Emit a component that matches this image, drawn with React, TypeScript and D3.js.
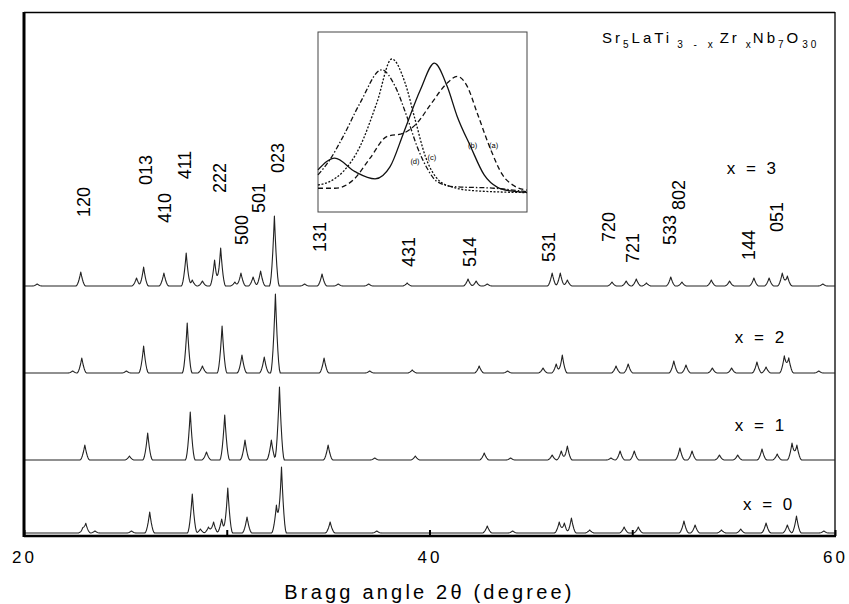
import React, { useEffect, useRef } from "react";
import * as d3 from "d3";

const W = 849;
const H = 604;
const FONT = "'Liberation Sans', Arial, sans-serif";

// peak lists [2theta, intensity], one per composition
const peaksX3 = [
  [20.65, 2], [22.8, 14], [25.55, 8], [25.9, 19], [26.9, 13], [28.0, 33], [28.3, 6],
  [28.8, 5], [29.4, 26], [29.7, 38], [30.4, 4], [30.7, 13], [31.3, 9], [31.67, 15],
  [32.35, 70], [33.84, 2], [34.7, 12], [35.5, 2], [37.0, 2], [38.9, 3], [41.9, 7],
  [42.3, 5], [42.85, 2], [46.05, 13], [46.45, 13], [46.8, 6], [49.0, 4], [49.7, 5],
  [50.2, 7], [50.7, 3], [51.9, 9], [52.45, 4], [53.9, 6], [54.8, 5], [56.0, 8],
  [56.75, 8], [57.4, 13], [57.65, 10], [59.4, 2],
];
const peaksX2 = [
  [22.4, 2], [22.85, 15], [25.05, 2], [25.9, 27], [28.05, 50], [28.8, 7], [29.77, 47],
  [30.75, 18], [31.85, 16], [32.4, 79], [34.8, 15], [37.05, 2], [39.15, 3], [42.45, 7],
  [43.85, 2], [45.6, 5], [46.25, 9], [46.55, 18], [49.2, 7], [49.8, 9], [52.05, 12],
  [52.65, 8], [53.95, 5], [54.9, 5], [56.15, 11], [56.6, 6], [57.5, 17], [57.72, 15],
  [59.2, 2],
];
const peaksX1 = [
  [23.0, 15], [25.2, 4], [26.1, 27], [28.2, 48], [29.0, 8], [29.9, 45], [30.9, 20],
  [32.2, 20], [32.6, 73], [35.0, 15], [37.3, 2], [39.3, 4], [42.7, 7], [44.0, 2],
  [46.05, 5], [46.5, 9], [46.8, 14], [48.95, 2], [49.4, 9], [50.1, 9], [52.35, 12],
  [52.95, 9], [54.3, 5], [55.2, 5], [56.4, 11], [57.15, 6], [57.88, 17], [58.12, 15],
];
const peaksX0 = [
  [22.9, 4], [23.05, 9], [23.5, 2], [25.3, 2], [26.2, 21], [28.3, 39], [28.7, 4],
  [29.1, 6], [29.35, 11], [29.75, 14], [30.05, 45], [31.0, 16], [32.45, 28], [32.7, 66],
  [35.1, 11], [37.4, 2], [42.85, 7], [44.1, 2], [46.4, 11], [46.65, 10], [47.0, 15],
  [47.9, 3], [49.6, 6], [50.3, 6], [52.55, 12], [53.1, 8], [54.4, 3], [55.35, 4],
  [56.6, 10], [57.65, 8], [58.1, 17], [59.45, 2],
];

const patternLabels = ["x = 3", "x = 2", "x = 1", "x = 0"];
const patternOffsets = [250, 163, 76, 3];
// [2theta, intensity] where each composition label sits
const patternLabelAt = [[55.95, 362], [56.35, 193], [56.35, 105], [56.75, 26]];

// hkl indexing: [label, 2theta, intensity level of label centre]
const hklLabels: [string, number, number][] = [
  ["120", 22.96, 334], ["013", 26.0, 366], ["410", 26.95, 328], ["411", 27.93, 371],
  ["222", 29.66, 358], ["500", 30.74, 306], ["501", 31.58, 338], ["023", 32.51, 378],
  ["131", 34.58, 299], ["431", 39.0, 284], ["514", 42.0, 284], ["531", 45.9, 289],
  ["720", 48.87, 309], ["721", 50.05, 288], ["533", 51.87, 306], ["802", 52.32, 341],
  ["144", 55.76, 291], ["051", 57.14, 319],
];

const xTicks = [20, 30, 40, 50, 60];

// inset: profile of one reflection, relative position / intensity (0-100)
const insetA = [[0, 13.2], [8, 13.2], [16.9, 17.8], [24.9, 29.9], [32.9, 41.9], [40.9, 43.8], [47.4, 49.4], [53.8, 59.6], [61.8, 71.6], [66.6, 75.3], [71.4, 69.8], [76.2, 54.9], [82.7, 34.5], [88.3, 20.6], [93.9, 14.5], [100, 12.2]];
const insetB = [[0, 23.4], [8, 29.9], [17.7, 22.4], [27.3, 18.4], [34.5, 25.2], [40.9, 43.8], [49, 67.9], [55.7, 82.7], [61.8, 69.8], [66.6, 53.1], [73, 36.4], [79.5, 20.6], [85.9, 13.7], [92.3, 11.7], [100, 10.9]];
const insetC = [[0, 15], [5.6, 16.9], [12, 22.4], [20.1, 36.4], [28.1, 60.5], [35.3, 85], [41.7, 71.6], [46.5, 51.2], [51.4, 30.8], [56.2, 19.7], [63.4, 14.1], [76.2, 11.7], [100, 10.8]];
const insetD = [[0, 20.6], [5.6, 28.9], [12, 41.9], [20.1, 60.5], [30.5, 79], [36.9, 69.8], [42.5, 53.1], [47.4, 36.4], [52.2, 24.3], [57, 16.9], [65, 14.1], [84.3, 13.2], [100, 11.3]];
const insetTags: [string, number, number][] = [["(b)", 74, 36.7], ["(a)", 84, 36.7], ["(d)", 46.4, 27.8], ["(c)", 54.5, 30.5]];

const margin = { top: 12, right: 14, bottom: 68, left: 24 };
const HW = 0.24; // peak half width at the base, degrees
const STEPS = 6;

// line shape of a single reflection, sharp top and flared foot
const shape = (d: number) => {
  const t = Math.abs(d) / HW;
  return t >= 1 ? 0 : Math.pow(1 - t, 1.8);
};

function profile(peaks: number[][], offset: number) {
  const xs = new Set<number>([20, 60]);
  peaks.forEach(([p]) => {
    for (let k = -STEPS; k <= STEPS; k++) xs.add(+(p + (k * HW) / STEPS).toFixed(4));
  });
  return [...xs]
    .filter((v) => v >= 20 && v <= 60)
    .sort((a, b) => a - b)
    .map((v) => [v, offset + d3.sum(peaks, ([p, h]) => h * shape(v - p))]);
}

export default function App() {
  const axisRef = useRef<SVGGElement>(null);

  const x = d3.scaleLinear().domain([20, 60]).range([margin.left, W - margin.right]);
  const y = d3.scaleLinear().domain([0, 524]).range([H - margin.bottom, margin.top]);

  const ix = d3.scaleLinear().domain([0, 100]).range([318, 527]);
  const iy = d3.scaleLinear().domain([0, 100]).range([212, 32]);

  const line = d3.line<number[]>().x((d) => x(d[0])).y((d) => y(d[1]));
  const insetLine = d3
    .line<number[]>()
    .x((d) => ix(d[0]))
    .y((d) => iy(d[1]))
    .curve(d3.curveMonotoneX);

  const series = [peaksX3, peaksX2, peaksX1, peaksX0];

  useEffect(() => {
    const g = d3.select(axisRef.current);
    g.selectAll("*").remove();
    g.call(
      d3
        .axisBottom(x)
        .tickValues(xTicks)
        .tickSize(-6)
        .tickPadding(15)
        .tickFormat((d) => (+d % 20 === 0 ? String(d) : ""))
    );
    g.select(".domain").remove();
    g.selectAll(".tick line").attr("stroke", "#000").attr("stroke-width", 2);
    g.selectAll(".tick text")
      .attr("fill", "#000")
      .style("font-family", FONT)
      .style("font-size", "17px")
      .style("letter-spacing", "3px");
  }, []);

  const insetCurves = [
    { d: insetA, dash: "5,3" },
    { d: insetB, dash: null },
    { d: insetC, dash: "2,1.6" },
    { d: insetD, dash: "5,2,1.5,2" },
  ];

  return (
    <svg
      width={W}
      height={H}
      style={{ position: "absolute", left: 0, top: 0, background: "#fff" }}
    >
      {/* frame */}
      <line x1={x(20)} x2={x(60)} y1={margin.top + 0.5} y2={margin.top + 0.5} stroke="#000" strokeWidth={1.3} />
      <line x1={x(60)} x2={x(60)} y1={margin.top} y2={y(0)} stroke="#000" strokeWidth={1.3} />

      {series.map((pk, i) => (
        <path
          key={patternLabels[i]}
          d={line(profile(pk, patternOffsets[i])) || ""}
          fill="none"
          stroke="#222"
          strokeWidth={1.1}
          strokeLinejoin="round"
        />
      ))}

      <line x1={x(20)} x2={x(20)} y1={margin.top} y2={y(0) + 1} stroke="#000" strokeWidth={3} />
      <line x1={x(20)} x2={x(60) + 1} y1={y(0)} y2={y(0)} stroke="#000" strokeWidth={2.5} />
      <g ref={axisRef} transform={`translate(0,${y(0)})`} />

      {hklLabels.map(([t, p, lv]) => (
        <text
          key={t}
          transform={`translate(${x(p)},${y(lv)}) rotate(-90)`}
          textAnchor="middle"
          dominantBaseline="central"
          fontFamily={FONT}
          fontSize={18}
        >
          {t}
        </text>
      ))}

      {patternLabels.map((t, i) => (
        <text
          key={t}
          x={x(patternLabelAt[i][0])}
          y={y(patternLabelAt[i][1])}
          textAnchor="middle"
          fontFamily={FONT}
          fontSize={17}
          letterSpacing={3}
        >
          {t}
        </text>
      ))}

      {/* compound formula */}
      <text x={602} y={43} fontFamily={FONT} fontSize={15} letterSpacing={3}>
        <tspan>Sr</tspan>
        <tspan fontSize={10} dy={5}>5</tspan>
        <tspan dy={-5}>LaTi</tspan>
        <tspan fontSize={10} dy={5} dx={5} letterSpacing={4}>3 - x</tspan>
        <tspan dy={-5} dx={3}>Zr</tspan>
        <tspan fontSize={10} dy={5} dx={6}>x</tspan>
        <tspan dy={-5} dx={-1}>Nb</tspan>
        <tspan fontSize={10} dy={5}>7</tspan>
        <tspan dy={-5}>O</tspan>
        <tspan fontSize={10} dy={5} dx={1}>30</tspan>
      </text>

      {/* inset */}
      <rect x={ix(0)} y={iy(100)} width={ix(100) - ix(0)} height={iy(0) - iy(100)} fill="#fff" stroke="#444" strokeWidth={1} />
      {insetCurves.map((c, i) => (
        <path
          key={i}
          d={insetLine(c.d) || ""}
          fill="none"
          stroke="#111"
          strokeWidth={1.3}
          strokeDasharray={c.dash || undefined}
        />
      ))}
      {insetTags.map(([t, a, b]) => (
        <text
          key={t}
          x={ix(a)}
          y={iy(b)}
          textAnchor="middle"
          dominantBaseline="central"
          fontFamily={FONT}
          fontSize={7.5}
          fill="#000"
          style={{ textRendering: "geometricPrecision" }}
        >
          {t}
        </text>
      ))}

      <text
        x={x(40)}
        y={599}
        textAnchor="middle"
        fontFamily={FONT}
        fontSize={20}
        letterSpacing={3.2}
      >
        Bragg angle 2θ (degree)
      </text>
    </svg>
  );
}
